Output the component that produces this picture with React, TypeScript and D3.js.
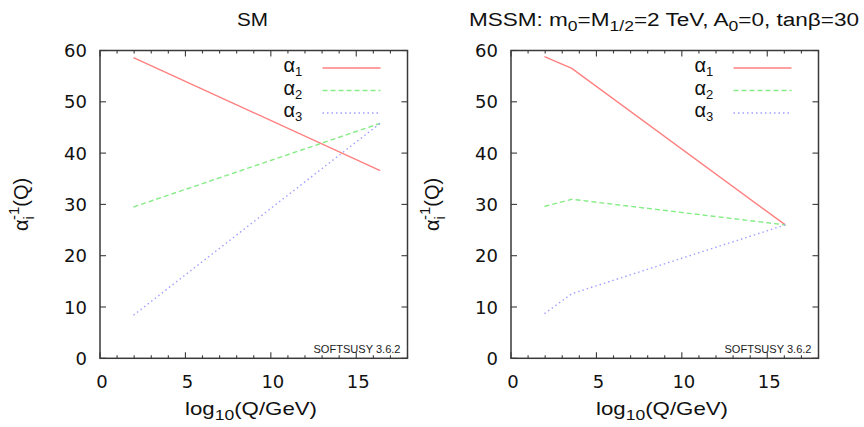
import React from "react";
import * as d3 from "d3";

const smQ = [1.96, 16.4];
const smAlpha1 = [58.6, 36.6];
const smAlpha2 = [29.5, 45.8];
const smAlpha3 = [8.4, 45.8];

const mssmQ = [1.96, 3.56, 16.06];
const mssmAlpha1 = [58.8, 56.5, 26.0];
const mssmAlpha2 = [29.6, 31.0, 26.0];
const mssmAlpha3 = [8.7, 12.6, 26.0];

const xMajorTicks = [0, 5, 10, 15];
const xMinorTicks = d3.range(0, 19, 1);
const yTicks = [0, 10, 20, 30, 40, 50, 60];
const seriesSubs = ["1", "2", "3"];

const W = 864;
const H = 427;
const FONT = "'DejaVu Sans', 'Liberation Sans', Arial, sans-serif";
const FONT2 = "'Liberation Sans', Arial, Helvetica, sans-serif";
const COLORS = ["#ff8080", "#86ec86", "#a0a0ff"];
const DASHES = ["none", "5,3", "1.5,3"];

type PanelProps = {
  left: number;
  q: number[];
  series: number[][];
  title: React.ReactNode;
  titleX: number;
  titleLen: number;
};

function Panel({ left, q, series, title, titleX, titleLen }: PanelProps) {
  const top = 50.5;
  const bottom = 358.3;
  const width = 307.5;
  const right = left + width;
  const x = d3.scaleLinear().domain([0, 18]).range([left, right]);
  const y = d3.scaleLinear().domain([0, 60]).range([bottom, top]);
  const line = d3
    .line<[number, number]>()
    .x((d) => x(d[0]))
    .y((d) => y(d[1]));
  const frame = "#3a3a3a";
  return (
    <g>
      <text
        x={titleX}
        y={26}
        fontSize={18}
        fontFamily={FONT2}
        fill="#111"
        textLength={titleLen}
        lengthAdjust="spacingAndGlyphs"
      >
        {title}
      </text>
      {series.map((s, i) => (
        <path
          key={i}
          d={line(q.map((v, j) => [v, s[j]] as [number, number])) || ""}
          fill="none"
          stroke={COLORS[i]}
          strokeWidth={1.4}
          strokeDasharray={DASHES[i]}
        />
      ))}
      {/* legend */}
      {seriesSubs.map((sub, i) => {
        const ly = 68 + i * 22.5;
        return (
          <g key={sub}>
            <text x={right - 124} y={ly + 4} fontSize={20} fontFamily={FONT2} fill="#111">
              α
              <tspan fontSize={13} dy={4}>{sub}</tspan>
            </text>
            <line
              x1={right - 85}
              x2={right - 27}
              y1={ly}
              y2={ly}
              stroke={COLORS[i]}
              strokeWidth={1.4}
              strokeDasharray={DASHES[i]}
            />
          </g>
        );
      })}
      {/* ticks */}
      {xMinorTicks.map((t) => {
        const len = xMajorTicks.includes(t) ? 6 : 3;
        return (
          <g key={"x" + t}>
            <line x1={x(t)} x2={x(t)} y1={bottom} y2={bottom - len} stroke={frame} strokeWidth={1.1} />
            <line x1={x(t)} x2={x(t)} y1={top} y2={top + len} stroke={frame} strokeWidth={1.1} />
          </g>
        );
      })}
      {yTicks.map((t) => (
        <g key={"y" + t}>
          <line x1={left} x2={left + 6} y1={y(t)} y2={y(t)} stroke={frame} strokeWidth={1.1} />
          <line x1={right} x2={right - 6} y1={y(t)} y2={y(t)} stroke={frame} strokeWidth={1.1} />
          <text x={left - 13} y={y(t) + 6.5} textAnchor="end" fontSize={18} fontFamily={FONT} fill="#111">
            {t}
          </text>
        </g>
      ))}
      {xMajorTicks.map((t) => (
        <text key={"xl" + t} x={x(t) + 2} y={388} textAnchor="middle" fontSize={18} fontFamily={FONT} fill="#111">
          {t}
        </text>
      ))}
      <rect x={left} y={top} width={width} height={bottom - top} fill="none" stroke={frame} strokeWidth={1.5} />
      <text
        x={right - 94}
        y={353}
        fontSize={11}
        fontFamily={FONT2}
        fill="#222"
        textLength={87}
        lengthAdjust="spacingAndGlyphs"
      >
        SOFTSUSY 3.6.2
      </text>
      {/* axis labels */}
      <text
        x={left + 85}
        y={415}
        fontSize={19}
        fontFamily={FONT2}
        fill="#111"
        textLength={132}
        lengthAdjust="spacingAndGlyphs"
      >
        log
        <tspan fontSize={15} dy={5}>10</tspan>
        <tspan dy={-5}>(Q/GeV)</tspan>
      </text>
      <text
        transform={`translate(${left - 72},${(top + bottom) / 2}) rotate(-90)`}
        textAnchor="middle"
        fontSize={20}
        fontFamily={FONT2}
        fill="#111"
      >
        α
        <tspan fontSize={15} dy={6}>i</tspan>
        <tspan fontSize={15} dy={-15} dx={-4}>-1</tspan>
        <tspan dy={9}>(Q)</tspan>
      </text>
    </g>
  );
}

export default function App() {
  return (
    <svg width={W} height={H} style={{ display: "block", position: "absolute", left: 0, top: 0, background: "#fff" }}>
      <rect width={W} height={H} fill="#fff" />
      <Panel
        left={100}
        q={smQ}
        series={[smAlpha1, smAlpha2, smAlpha3]}
        title="SM"
        titleX={237}
        titleLen={31}
      />
      <Panel
        left={511}
        q={mssmQ}
        series={[mssmAlpha1, mssmAlpha2, mssmAlpha3]}
        titleX={469}
        titleLen={390}
        title={
          <>
            MSSM: m<tspan fontSize={14} dy={5}>0</tspan>
            <tspan dy={-5}>=M</tspan>
            <tspan fontSize={14} dy={5}>1/2</tspan>
            <tspan dy={-5}>=2 TeV, A</tspan>
            <tspan fontSize={14} dy={5}>0</tspan>
            <tspan dy={-5}>=0, tanβ=30</tspan>
          </>
        }
      />
    </svg>
  );
}
